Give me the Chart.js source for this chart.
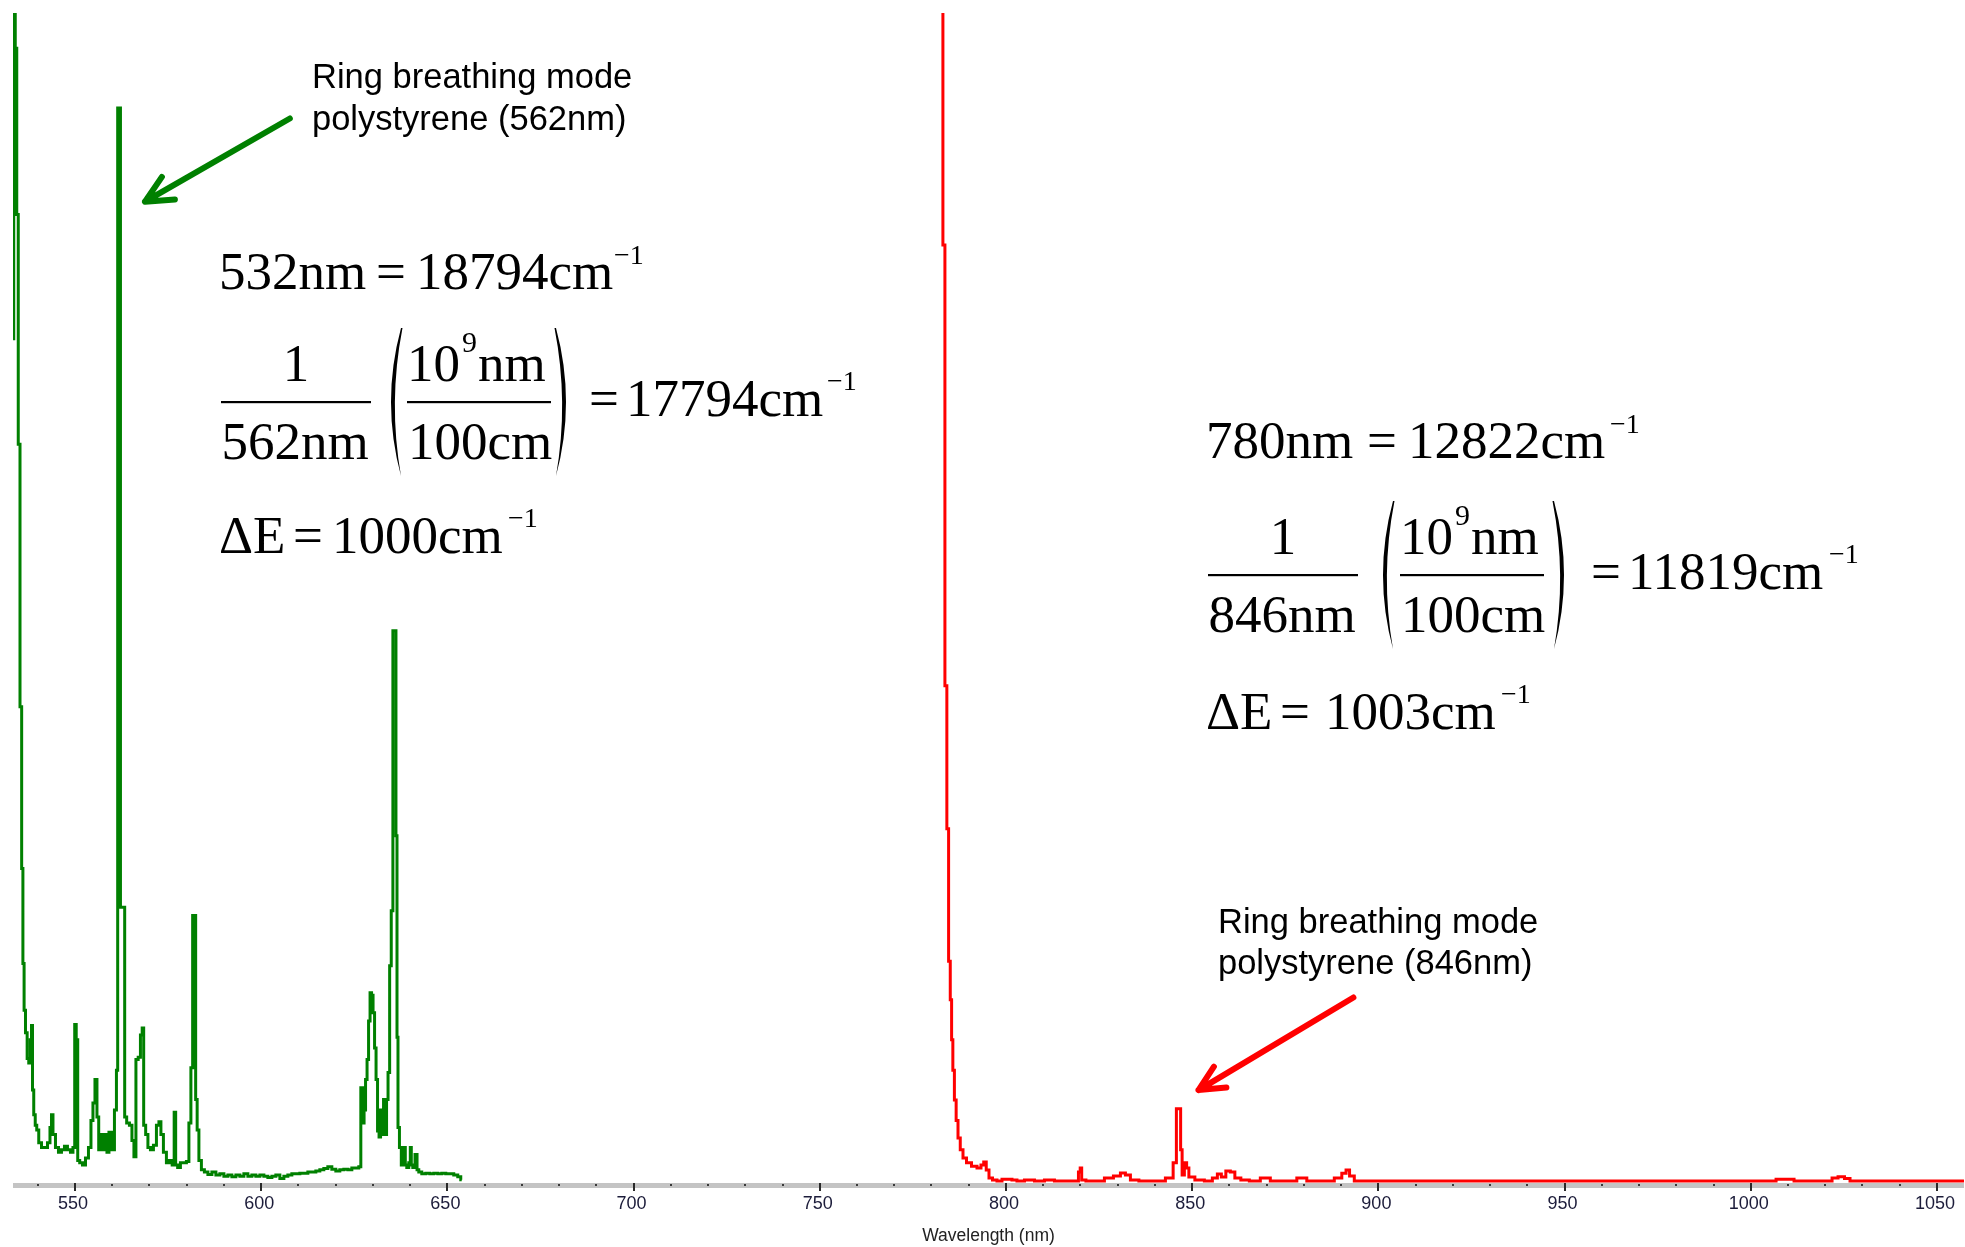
<!DOCTYPE html>
<html lang="en">
<head>
  <meta charset="UTF-8">
  <title>Raman spectra of polystyrene</title>
  <script src="https://cdn.jsdelivr.net/npm/chart.js@4.4.0/dist/chart.umd.min.js"></script>
  <style>
    html, body { margin: 0; padding: 0; background: #fff; }
    canvas { display: block; }
  </style>
</head>
<body>
<canvas id="chart" width="1965" height="1247"></canvas>

<script>
// wavelength (nm) / intensity (% of full scale)
const greenNm = [
  533.36, 533.76, 534.17, 534.57, 534.97, 535.51, 535.86, 536.18,
  536.50, 536.93, 537.39, 537.79, 538.19, 538.46, 538.73, 539.13,
  539.53, 539.94, 540.61, 541.41, 542.22, 543.02, 543.56, 543.83,
  544.36, 545.17, 545.97, 546.78, 547.58, 548.39, 549.19, 549.73,
  550.13, 550.54, 550.94, 551.61, 552.42, 553.22, 554.03, 554.56,
  555.10, 555.64, 556.17, 556.58, 557.25, 557.78, 558.32, 558.86,
  559.39, 560.20, 561.00, 561.27, 561.67, 562.08, 562.35, 562.75,
  563.15, 563.55, 564.22, 565.03, 565.57, 566.10, 566.64, 567.31,
  567.85, 568.25, 568.65, 569.32, 569.86, 570.67, 571.47, 572.28,
  572.81, 573.35, 574.15, 574.96, 575.76, 576.44, 576.84, 577.24,
  577.91, 578.72, 579.52, 580.33, 580.86, 581.40, 581.80, 582.21,
  582.61, 583.01, 583.55, 584.35, 585.16, 586.23, 587.31, 588.38,
  589.45, 590.53, 591.60, 592.67, 593.75, 594.82, 595.89, 596.97,
  598.04, 599.11, 600.19, 601.26, 602.34, 603.41, 604.48, 605.56,
  606.63, 607.70, 608.78, 609.85, 610.92, 612.00, 613.07, 614.14,
  615.22, 616.29, 617.36, 618.44, 619.51, 620.58, 621.66, 622.73,
  623.81, 624.88, 625.95, 626.49, 627.03, 627.43, 627.83, 628.23,
  628.64, 629.04, 629.44, 629.84, 630.25, 630.65, 631.05, 631.45,
  631.86, 632.26, 632.66, 633.06, 633.47, 633.87, 634.27, 634.73,
  635.13, 635.61, 636.02, 636.37, 636.58, 636.90, 637.36, 637.90,
  638.30, 638.57, 638.84, 639.37, 639.91, 640.18, 640.45, 640.98,
  641.65, 642.06, 642.59, 643.67, 644.74, 645.81, 646.89, 647.96,
  649.03, 650.11, 651.18, 652.25, 653.33, 653.86
];
const greenCounts = [
  72.2, 120, 97.0, 82.8, 63.2, 40.8, 27.0, 18.9,
  14.9, 13.0, 10.8, 10.4, 12.4, 13.6, 8.1, 6.0,
  5.1, 4.7, 3.6, 3.2, 3.2, 3.6, 4.9, 6.0,
  4.3, 3.2, 2.8, 3.0, 3.3, 3.0, 2.8, 3.2,
  13.7, 12.4, 2.1, 1.9, 1.7, 2.3, 3.2, 5.5,
  7.0, 9.0, 5.8, 3.0, 4.3, 3.0, 4.3, 2.8,
  4.5, 3.0, 6.4, 9.8, 91.9, 91.9, 23.7, 23.7,
  23.7, 5.8, 5.3, 5.1, 3.8, 2.4, 10.7, 10.9,
  12.8, 13.4, 5.1, 4.3, 3.2, 3.0, 3.4, 5.1,
  5.4, 4.3, 2.8, 1.9, 2.1, 1.7, 6.2, 1.7,
  1.5, 1.9, 1.9, 2.0, 5.3, 10.0, 23.0, 23.0,
  7.3, 4.7, 2.1, 1.3, 1.1, 0.9, 1.1, 0.85,
  0.95, 0.75, 0.85, 0.7, 0.85, 0.75, 0.95, 0.75,
  0.85, 0.75, 0.85, 0.75, 0.65, 0.75, 0.85, 0.55,
  0.75, 0.85, 0.95, 0.95, 1.0, 1.0, 1.1, 1.1,
  1.2, 1.3, 1.4, 1.55, 1.35, 1.2, 1.3, 1.35,
  1.3, 1.45, 1.45, 1.55, 8.3, 5.3, 6.4, 9.0,
  10.7, 14.0, 16.4, 16.2, 14.7, 11.7, 9.0, 4.6,
  4.1, 6.4, 4.3, 7.3, 4.3, 7.3, 9.6, 18.7,
  23.4, 47.3, 47.3, 29.8, 12.6, 4.9, 3.2, 1.7,
  2.1, 3.2, 1.7, 1.5, 1.9, 3.2, 1.7, 1.5,
  2.6, 1.3, 1.1, 0.95, 1.0, 0.95, 1.0, 0.95,
  1.0, 0.95, 0.95, 0.85, 0.7, 0.45
];

const redNm = [
  782.82, 783.31, 783.90, 784.35, 784.84, 785.24, 785.56, 785.91,
  786.39, 786.85, 787.39, 788.06, 788.86, 789.94, 791.55, 792.89,
  793.69, 794.36, 795.04, 795.84, 796.91, 798.26, 799.60, 800.94,
  802.28, 803.62, 806.31, 808.99, 811.67, 814.36, 817.04, 819.19,
  819.73, 820.13, 820.53, 822.41, 825.09, 827.78, 829.93, 831.54,
  832.61, 834.22, 837.17, 841.20, 844.42, 845.36, 846.16, 846.70,
  847.10, 847.50, 848.31, 848.71, 849.52, 851.93, 854.62, 856.23,
  857.30, 858.37, 859.71, 860.79, 862.13, 864.01, 866.69, 869.91,
  872.06, 876.09, 880.11, 881.45, 886.82, 889.51, 890.85, 891.79,
  892.73, 894.34, 905.61, 932.45, 959.29, 986.12, 1006.52, 1007.06,
  1011.35, 1011.89, 1021.02, 1022.63, 1024.24, 1026.11, 1027.19, 1039.80,
  1057.25
];
const redCounts = [
  120, 80.2, 42.6, 30.4, 19.1, 15.8, 12.4, 9.8,
  7.25, 5.5, 4.0, 3.0, 2.3, 1.9, 1.6, 1.45,
  1.7, 1.96, 1.28, 0.6, 0.43, 0.34, 0.5, 0.5,
  0.43, 0.34, 0.43, 0.34, 0.43, 0.34, 0.34, 0.34,
  1.1, 1.45, 0.43, 0.34, 0.34, 0.6, 0.77, 1.02,
  0.85, 0.43, 0.34, 0.34, 0.6, 1.9, 6.5, 6.5,
  3.0, 0.85, 1.9, 1.45, 0.68, 0.43, 0.34, 0.6,
  0.94, 0.68, 1.19, 1.11, 0.6, 0.43, 0.34, 0.6,
  0.34, 0.34, 0.6, 0.34, 0.34, 0.6, 1.0, 1.28,
  0.77, 0.34, 0.34, 0.34, 0.34, 0.34, 0.34, 0.5,
  0.5, 0.34, 0.34, 0.6, 0.7, 0.55, 0.34, 0.34,
  0.34
];

const tickLabels = [550, 600, 650, 700, 750, 800, 850, 900, 950, 1000, 1050];
const axisTitle = 'Wavelength (nm)';

const toPoints = (xs, ys) => xs.map((x, i) => ({ x: x, y: ys[i] }));

// grey axis bar with its major/minor tick marks
const axisBar = {
  id: 'axisBar',
  beforeDatasetsDraw(chart) {
    const { ctx, chartArea } = chart;
    const xs = chart.scales.x;
    const y0 = chartArea.bottom;
    ctx.save();
    ctx.fillStyle = '#c4c4c4';
    ctx.fillRect(chartArea.left, y0 - 2, chartArea.right - chartArea.left, 5);
    xs.ticks.forEach(t => {
      const px = Math.round(xs.getPixelForValue(t.value));
      if (tickLabels.includes(t.value)) {
        ctx.fillStyle = '#2a2a2a';
        ctx.fillRect(px - 1, y0 - 2, 2, 8);
      } else {
        ctx.fillStyle = '#3a3a3a';
        ctx.fillRect(px - 1, y0 - 1, 2, 2);
      }
    });
    ctx.restore();
  }
};

function arrow(ctx, x1, y1, x2, y2, color, w, head) {
  const a = Math.atan2(y1 - y2, x1 - x2);
  ctx.save();
  ctx.strokeStyle = color;
  ctx.lineWidth = w;
  ctx.lineCap = 'round';
  ctx.lineJoin = 'round';
  ctx.beginPath();
  ctx.moveTo(x1, y1);
  ctx.lineTo(x2, y2);
  ctx.moveTo(x2 + head * Math.cos(a - 0.45), y2 + head * Math.sin(a - 0.45));
  ctx.lineTo(x2, y2);
  ctx.lineTo(x2 + head * Math.cos(a + 0.45), y2 + head * Math.sin(a + 0.45));
  ctx.stroke();
  ctx.restore();
}

const SERIF = "'Liberation Serif', 'Times New Roman', serif";
const SANS = "'Liberation Sans', Arial, sans-serif";

function txt(ctx, s, x, y, size, align) {
  ctx.font = size + 'px ' + SERIF;
  ctx.textAlign = align || 'left';
  ctx.fillText(s, x, y);
}

function paren(ctx, x, top, bot, bulge) {
  // crescent shaped tall bracket; negative bulge = "(", positive = ")"
  const mid = (top + bot) / 2;
  const dir = Math.sign(bulge);
  ctx.beginPath();
  ctx.moveTo(x, top);
  ctx.quadraticCurveTo(x + bulge * 2, mid, x, bot);
  ctx.quadraticCurveTo(x + bulge * 2 - dir * 7, mid, x - dir * 1.5, top);
  ctx.closePath();
  ctx.fill();
}

// one equation block; (ox, oy) shifts it, d holds small per-part nudges
function equations(ctx, ox, oy, d, l1, l2, l3, l4) {
  ctx.save();
  ctx.translate(ox, oy);
  ctx.fillStyle = '#000';
  ctx.textBaseline = 'alphabetic';
  // line 1
  const y1 = 289 + d.y1;
  txt(ctx, l1[0], 219, y1, 53);
  txt(ctx, '=', 376 + d.e1, y1, 53);
  txt(ctx, l1[1], 416 + d.n1, y1, 53);
  txt(ctx, '\u22121', 614 + d.s1, y1 - 25, 28);
  // line 2: fraction times bracketed unit fraction
  txt(ctx, '1', 296, 381, 53, 'center');
  txt(ctx, l2, 295, 459, 53, 'center');
  ctx.fillRect(221, 401, 150, 2.2);
  paren(ctx, 401 + d.p1, 328, 476, -10);
  const ix = 407 + d.in2;
  txt(ctx, '10', ix, 381, 53);
  txt(ctx, '9', ix + 55, 352, 30);
  txt(ctx, 'nm', ix + 71, 381, 53);
  ctx.fillRect(ix, 401, 144, 2.2);
  txt(ctx, '100cm', ix + 1, 459, 53);
  paren(ctx, 556 + d.p2, 328, 476, 10);
  txt(ctx, '=', 589 + d.e2, 416, 53);
  txt(ctx, l3, 626 + d.e2, 416, 53);
  txt(ctx, '\u22121', 827 + d.e2, 390, 28);
  // line 3
  const y3 = 553 + d.y3;
  txt(ctx, '\u0394E', 219, y3, 53);
  txt(ctx, '=', 293, y3, 53);
  txt(ctx, l4, 332 + d.n3, y3, 53);
  txt(ctx, '\u22121', 508 + d.n3, y3 - 26, 28);
  ctx.restore();
}

const annotations = {
  id: 'annotations',
  afterDatasetsDraw(chart) {
    const { ctx } = chart;
    const xs = chart.scales.x, ys = chart.scales.y;
    const P = (nm, v) => [xs.getPixelForValue(nm), ys.getPixelForValue(v)];

    let a = P(607.7, 91.0), b = P(568.8, 83.9);
    arrow(ctx, a[0], a[1], b[0], b[1], '#008000', 6, 30);
    a = P(893.3, 16.0); b = P(851.7, 8.1);
    arrow(ctx, a[0], a[1], b[0], b[1], '#ff0000', 6, 28);

    ctx.save();
    ctx.fillStyle = '#000';
    ctx.font = '34.5px ' + SANS;
    ctx.textAlign = 'left';
    ctx.textBaseline = 'middle';
    ctx.fillText('Ring breathing mode', 312, 78);
    ctx.fillText('polystyrene (562nm)', 312, 120);
    ctx.fillText('Ring breathing mode', 1218, 923);
    ctx.fillText('polystyrene (846nm)', 1218, 964);
    ctx.restore();

    const none = { y1: 0, e1: 0, n1: 0, s1: 0, p1: 0, in2: 0, p2: 0, e2: 0, y3: 0, n3: 0 };
    equations(ctx, 0, 0, none, ['532nm', '18794cm'], '562nm', '17794cm', '1000cm');
    equations(ctx, 987, 173,
      { y1: -4, e1: 4, n1: 5, s1: 9, p1: 5, in2: 6, p2: 11, e2: 15, y3: 3, n3: 6 },
      ['780nm', '12822cm'], '846nm', '11819cm', '1003cm');
  }
};

const AXIS_FONT = "'Liberation Sans Narrow', 'Arial Narrow', 'Liberation Sans', sans-serif";

const ctx = document.getElementById('chart').getContext('2d');
const myChart = new Chart(ctx, {
  type: 'line',
  data: {
    datasets: [{
      label: '532 nm excitation',
      data: toPoints(greenNm, greenCounts),
      borderColor: '#008000',
      borderWidth: 3,
      pointRadius: 0,
      stepped: 'middle',
      fill: false
    }, {
      label: '780 nm excitation',
      data: toPoints(redNm, redCounts),
      borderColor: '#ff0000',
      borderWidth: 3,
      pointRadius: 0,
      stepped: 'middle',
      fill: false
    }]
  },
  options: {
    responsive: false,
    animation: false,
    layout: { padding: { left: 13, top: 13, right: 0, bottom: 0 } },
    plugins: {
      legend: { display: false },
      tooltip: { enabled: false }
    },
    scales: {
      x: {
        type: 'linear',
        min: 533.36,
        max: 1057.25,
        grid: { display: false, drawTicks: false },
        border: { display: false },
        ticks: {
          stepSize: 10,
          autoSkip: false,
          includeBounds: false,
          maxRotation: 0,
          padding: 8,
          labelOffset: -2,
          color: '#1c1c3a',
          font: { family: AXIS_FONT, size: 18 },
          callback: v => tickLabels.includes(v) ? String(v) : ''
        },
        title: {
          display: true,
          text: axisTitle,
          color: '#222',
          padding: 0,
          font: { family: AXIS_FONT, size: 17.5 }
        },
        afterFit: scale => { scale.height = 62; }
      },
      y: { display: false, min: 0, max: 100 }
    }
  },
  plugins: [axisBar, annotations]
});
</script>
</body>
</html>
